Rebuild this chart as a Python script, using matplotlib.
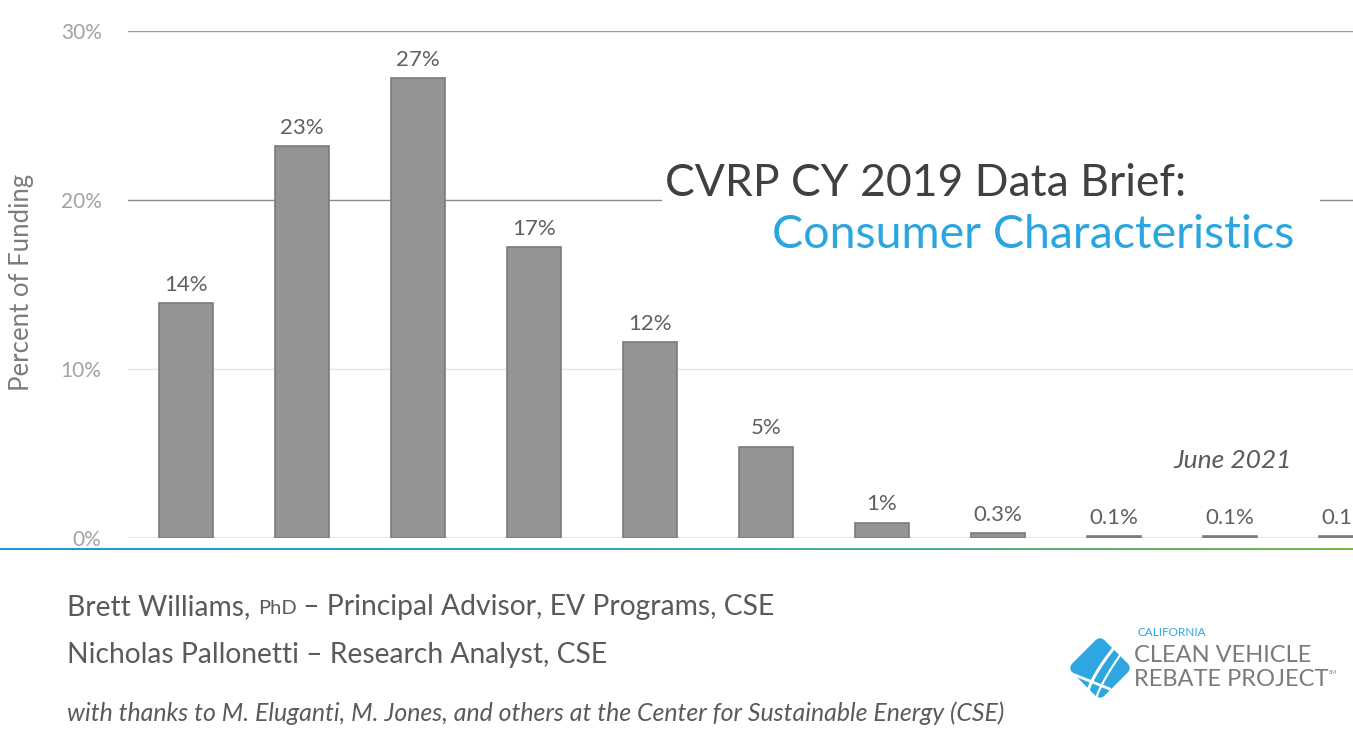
import matplotlib
matplotlib.use("Agg")
import matplotlib.pyplot as plt
import numpy as np
from matplotlib.patches import FancyBboxPatch, Rectangle
from matplotlib.colors import LinearSegmentedColormap
from matplotlib.transforms import Affine2D

# ---- data ----
categories = ["c1", "c2", "c3", "c4", "c5", "c6", "c7", "c8", "c9", "c10", "c11"]
funding_pct = [13.9, 23.2, 27.2, 17.2, 11.6, 5.4, 0.9, 0.3, 0.1, 0.1, 0.1]
bar_labels = ["14%", "23%", "27%", "17%", "12%", "5%", "1%", "0.3%", "0.1%", "0.1%", "0.1%"]
y_ticks = [0, 10, 20, 30]
y_tick_labels = ["0%", "10%", "20%", "30%"]

title_line1 = "CVRP CY 2019 Data Brief:"
title_line2 = "Consumer Characteristics"
date_text = "June 2021"
author1 = ("Brett Williams, ", "PhD", " \u2013 Principal Advisor, EV Programs, CSE")
author2 = "Nicholas Pallonetti \u2013 Research Analyst, CSE"
thanks = "with thanks to M. Eluganti, M. Jones, and others at the Center for Sustainable Energy (CSE)"

plt.rcParams['font.family'] = ['Lato', 'DejaVu Sans']

W, H = 1353, 751
fig = plt.figure(figsize=(W / 100, H / 100), dpi=100)
fig.patch.set_facecolor("white")

def fx(px):
    return px / W

def fy(py):
    return 1 - py / H

# ---- chart axes ----
ax = fig.add_axes([fx(128), fy(538), 1 - fx(128), fy(31) - fy(538)])
x = np.arange(len(categories))
ax.set_xlim(-0.5, 10.06)
ax.set_ylim(0, 30)

grid_colors = {0: "#9a9a9a", 10: "#e4e4e4", 20: "#8c8c8c", 30: "#9a9a9a"}
for t in y_ticks:
    ax.axhline(t, color=grid_colors[t], lw=1.0, zorder=0.5)

bars = ax.bar(x, funding_pct, width=0.47, color="#939393", edgecolor="#7a7a7a",
              linewidth=1.2, zorder=2)
for xi, v, lab in zip(x, funding_pct, bar_labels):
    ax.annotate(lab, (xi, v), xytext=(0, 6), textcoords="offset points",
                ha="center", va="bottom", fontsize=16, color="#606060", zorder=3)

ax.set_yticks(y_ticks)
ax.set_yticklabels(y_tick_labels, fontsize=15, color="#a3a3a3")
ax.tick_params(axis="y", length=0, pad=19)
ax.set_xticks([])
for s in ax.spines.values():
    s.set_visible(False)
ax.set_ylabel("Percent of Funding", fontsize=18.5, color="#7c7c7c")
ax.yaxis.set_label_coords(-0.077, 0.505)

# ---- white panel behind title ----
fig.patches.append(Rectangle((fx(662), fy(265)), fx(1320) - fx(662), fy(148) - fy(265),
                             transform=fig.transFigure, facecolor="white",
                             edgecolor="none", zorder=5))

fig.text(fx(1186), fy(183), title_line1, ha="right", va="center", fontsize=32,
         color="#404040", zorder=6)
fig.text(fx(1294), fy(235), title_line2, ha="right", va="center", fontsize=33.5,
         color="#29a6df", zorder=6)
fig.text(fx(1292), fy(461), date_text, ha="right", va="center", fontsize=19,
         color="#5a5a5a", style="italic", zorder=6)

# ---- gradient separator ----
gax = fig.add_axes([0, fy(550), 1, 2 / H])
cmap = LinearSegmentedColormap.from_list("sep", ["#1b9ad6", "#38a8b0", "#7ab648"])
gax.imshow(np.linspace(0, 1, 512)[None, :], aspect="auto", cmap=cmap)
gax.axis("off")

# ---- footer text ----
t1 = fig.text(fx(67), fy(607), author1[0], ha="left", va="center", fontsize=20.3, color="#5a5a5a")
fig.canvas.draw()
r = fig.canvas.get_renderer()
bb = t1.get_window_extent(r)
t2 = fig.text(bb.x1 / W, fy(609), author1[1], ha="left", va="center", fontsize=14.5, color="#5a5a5a")
bb2 = t2.get_window_extent(r)
fig.text(bb2.x1 / W, fy(607), author1[2], ha="left", va="center", fontsize=20.3, color="#5a5a5a")
fig.text(fx(67), fy(655), author2, ha="left", va="center", fontsize=20.3, color="#5a5a5a")
fig.text(fx(67), fy(713), thanks, ha="left", va="center", fontsize=17.9, color="#5a5a5a",
         style="italic")

# ---- logo ----
lax = fig.add_axes([fx(1060), fy(706), fx(80), 76 / H])
lax.set_xlim(-1, 1)
lax.set_ylim(-1, 1)
lax.set_aspect("equal")
lax.axis("off")
rot = Affine2D().rotate_deg(45) + lax.transData
diamond = FancyBboxPatch((-0.6, -0.6), 1.2, 1.2,
                         boxstyle="round,pad=0,rounding_size=0.18",
                         facecolor="#2ea6e0", edgecolor="none", transform=rot)
lax.add_patch(diamond)
tt = np.linspace(0, 1, 50)
lax.plot(-0.35 + 0.9 * tt, -0.75 + 1.5 * tt ** 0.7, color="white", lw=2.2)
lax.plot(-0.1 + 0.85 * tt, -0.8 + 1.45 * tt ** 0.8, color="white", lw=1.5)
lax.plot([-0.75, 0.25], [-0.15, -0.55], color="white", lw=2.0)

fig.text(fx(1137), fy(633), "CALIFORNIA", ha="left", va="center", fontsize=8.5,
         color="#2ea6e0")
fig.text(fx(1134), fy(656), "CLEAN VEHICLE", ha="left", va="center", fontsize=17,
         color="#7a7a7a")
fig.text(fx(1134), fy(680), "REBATE PROJECT", ha="left", va="center", fontsize=17,
         color="#7a7a7a")
fig.text(fx(1329), fy(672), "SM", ha="left", va="center", fontsize=4, color="#7a7a7a")

fig.savefig("out.png", dpi=100, facecolor="white")
